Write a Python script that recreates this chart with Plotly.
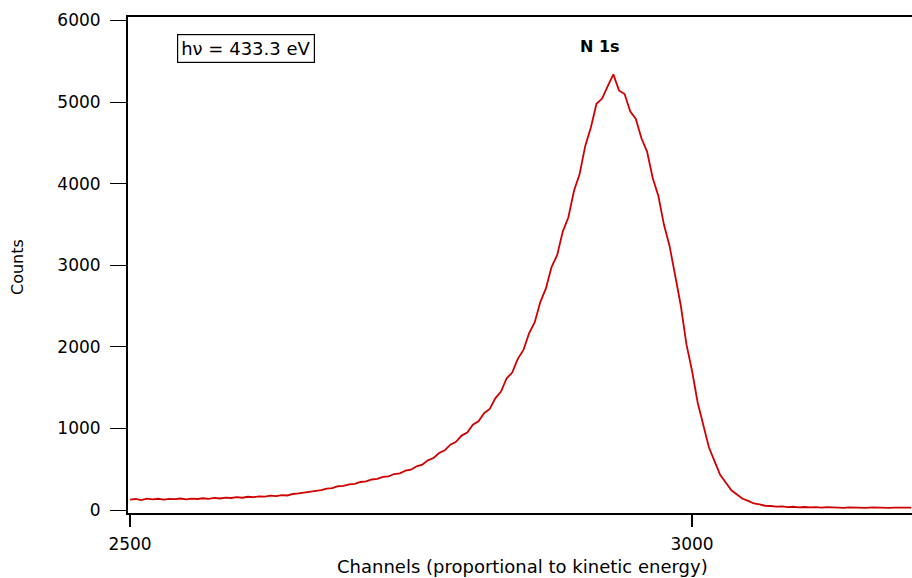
import plotly.graph_objects as go

# ---- data ----
channels = list(range(2500, 3200, 5))
counts = [
    128, 135, 122, 140, 131, 138, 127, 136, 133, 141,
    130, 139, 135, 144, 137, 148, 141, 152, 147, 158,
    150, 162, 157, 168, 163, 175, 171, 183, 178, 196,
    203, 212, 221, 236, 244, 263, 268, 291, 296, 315,
    321, 343, 350, 374, 381, 405, 412, 441, 449, 483,
    494, 536, 555, 608, 637, 699, 731, 801, 836, 912,
    948, 1045, 1088, 1186, 1238, 1368, 1452, 1612, 1684, 1852,
    1961, 2164, 2298, 2548, 2716, 2978, 3122, 3412, 3588, 3912,
    4118, 4462, 4688, 4978, 5042, 5196, 5338, 5142, 5098, 4886,
    4792, 4556, 4392, 4068, 3851, 3498, 3236, 2874, 2506, 2032,
    1706, 1318, 1052, 768, 598, 432, 338, 241, 189, 137,
    112, 80, 68, 52, 49, 41, 44, 36, 40, 33,
    37, 31, 36, 29, 34, 30, 35, 27, 33, 29,
    34, 26, 31, 28, 33, 25, 30, 27, 32, 28,
]
assert len(channels) == len(counts)

x_ticks = [2500, 3000]
y_ticks = [0, 1000, 2000, 3000, 4000, 5000, 6000]

x_title = "Channels (proportional to kinetic energy)"
y_title = "Counts"
peak_label = "N 1s"
photon_label = "hν = 433.3 eV"

FONT = "DejaVu Sans"

fig = go.Figure()
fig.add_trace(go.Scatter(
    x=channels, y=counts, mode="lines",
    line=dict(color="#d00000", width=1.8),
    showlegend=False, hoverinfo="skip",
))

fig.update_layout(
    width=912, height=578,
    margin=dict(l=128, r=0, t=17, b=65),
    paper_bgcolor="white", plot_bgcolor="white",
    font=dict(family=FONT, size=17, color="black"),
    xaxis=dict(
        range=[2498.2, 3195.7],
        tickvals=x_ticks, ticktext=[str(v) for v in x_ticks],
        ticks="outside", ticklen=12, tickwidth=1.5, tickcolor="black",
        showline=True, linecolor="black", linewidth=2, mirror=True,
        showgrid=False, zeroline=False,
        tickfont=dict(family=FONT, size=17),
        ticklabelstandoff=3,
    ),
    yaxis=dict(
        range=[-36.8, 6041.7],
        tickvals=y_ticks, ticktext=[str(v) for v in y_ticks],
        ticks="outside", ticklen=16, tickwidth=1.2, tickcolor="black",
        showline=True, linecolor="black", linewidth=2,
        showgrid=False, zeroline=False,
        tickfont=dict(family=FONT, size=17),
        ticklabelstandoff=6,
    ),
    annotations=[
        dict(text=x_title, xref="paper", yref="paper",
             x=0.5026, y=-0.1069, xanchor="center", yanchor="middle",
             showarrow=False, font=dict(family=FONT, size=18)),
        dict(text=y_title, xref="paper", yref="paper",
             x=-0.1403, y=0.496, xanchor="center", yanchor="middle",
             textangle=-90, showarrow=False, font=dict(family=FONT, size=16)),
        dict(text="<b>" + peak_label + "</b>", xref="paper", yref="paper",
             x=0.602, y=0.9415, xanchor="center", yanchor="middle",
             showarrow=False, font=dict(family=FONT, size=16)),
        dict(text=photon_label, xref="paper", yref="paper",
             x=0.1499, y=0.9365, xanchor="center", yanchor="middle",
             showarrow=False, font=dict(family=FONT, size=18),
             bordercolor="black", borderwidth=1.2, borderpad=3,
             bgcolor="white"),
    ],
)

fig.write_html("out.html")
